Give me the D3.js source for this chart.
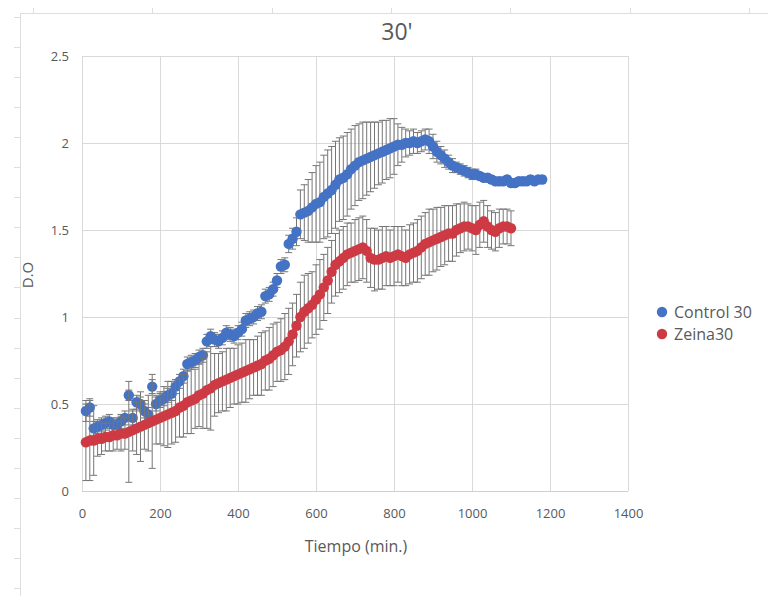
<!DOCTYPE html>
<html>
<head>
<meta charset="utf-8">
<script src="https://cdn.jsdelivr.net/npm/d3@7/dist/d3.min.js"></script>
<style>
  html, body { margin: 0; padding: 0; background: #fff; }
  svg { display: block; font-family: "Open Sans", "Noto Sans", sans-serif; }
</style>
</head>
<body>
<svg id="chart" width="768" height="596"></svg>
<script>
// ---- data -------------------------------------------------------------
const chartTitle = "30'";
const xTitle = "Tiempo (min.)";
const yTitle = "D.O";
const seriesNames = ["Control 30", "Zeina30"];

const xTicks = [0, 200, 400, 600, 800, 1000, 1200, 1400];
const yTicks = [0, 0.5, 1, 1.5, 2, 2.5];

// sampling times (min)
const timeControl = d3.range(10, 1181, 10);
const timeZeina = d3.range(10, 1101, 10);

// Control 30: mean optical density
const controlValues = [
  0.46, 0.48, 0.36, 0.37, 0.38, 0.39, 0.40, 0.38, 0.38, 0.40,
  0.42, 0.55, 0.42, 0.51, 0.50, 0.46, 0.44, 0.60, 0.50, 0.52,
  0.53, 0.55, 0.56, 0.60, 0.63, 0.66, 0.73, 0.74, 0.75, 0.77,
  0.78, 0.86, 0.89, 0.87, 0.86, 0.88, 0.91, 0.90, 0.89, 0.91,
  0.93, 0.98, 0.99, 1.00, 1.02, 1.03, 1.12, 1.13, 1.16, 1.21,
  1.29, 1.30, 1.42, 1.45, 1.49, 1.59, 1.60, 1.61, 1.63, 1.65,
  1.66, 1.69, 1.71, 1.73, 1.76, 1.79, 1.80, 1.82, 1.85, 1.87,
  1.89, 1.90, 1.91, 1.92, 1.93, 1.94, 1.95, 1.96, 1.97, 1.98,
  1.99, 1.99, 2.00, 2.00, 2.01, 2.00, 2.01, 2.02, 2.01, 1.98,
  1.95, 1.93, 1.91, 1.89, 1.87, 1.86, 1.85, 1.84, 1.83, 1.82,
  1.82, 1.81, 1.80, 1.80, 1.79, 1.78, 1.78, 1.78, 1.79, 1.77,
  1.77, 1.78, 1.78, 1.78, 1.79, 1.78, 1.79, 1.79
];
// Control 30: standard deviation
const controlErrors = [
  0.06, 0.05, 0.04, 0.04, 0.04, 0.04, 0.04, 0.04, 0.04, 0.04,
  0.04, 0.03, 0.04, 0.04, 0.04, 0.04, 0.04, 0.04, 0.04, 0.04,
  0.04, 0.04, 0.04, 0.04, 0.04, 0.04, 0.04, 0.04, 0.04, 0.04,
  0.04, 0.04, 0.04, 0.04, 0.04, 0.04, 0.04, 0.04, 0.04, 0.04,
  0.04, 0.04, 0.04, 0.04, 0.04, 0.04, 0.04, 0.04, 0.04, 0.04,
  0.04, 0.04, 0.05, 0.06, 0.08, 0.14, 0.16, 0.18, 0.20, 0.22,
  0.23, 0.24, 0.25, 0.25, 0.25, 0.24, 0.24, 0.24, 0.23, 0.23,
  0.22, 0.22, 0.21, 0.20, 0.19, 0.18, 0.18, 0.17, 0.17, 0.16,
  0.12, 0.10, 0.08, 0.07, 0.07, 0.06, 0.06, 0.06, 0.07, 0.07,
  0.06, 0.05, 0.05, 0.04, 0.04, 0.03, 0.03, 0.03, 0.03, 0.03,
  0.03, 0.02, 0.02, 0.02, 0.02, 0.02, 0.02, 0.02, 0.02, 0.02,
  0.02, 0.02, 0.02, 0.02, 0.02, 0.02, 0.02, 0.02
];

// Zeina30: mean optical density
const zeinaValues = [
  0.28, 0.29, 0.29, 0.30, 0.30, 0.31, 0.31, 0.32, 0.32, 0.33,
  0.33, 0.34, 0.35, 0.36, 0.37, 0.38, 0.39, 0.40, 0.41, 0.42,
  0.43, 0.44, 0.45, 0.46, 0.48, 0.49, 0.51, 0.52, 0.53, 0.55,
  0.56, 0.58, 0.59, 0.61, 0.62, 0.63, 0.64, 0.65, 0.66, 0.67,
  0.68, 0.69, 0.70, 0.71, 0.72, 0.73, 0.75, 0.76, 0.78, 0.80,
  0.81, 0.83, 0.86, 0.90, 0.95, 1.00, 1.03, 1.05, 1.07, 1.10,
  1.13, 1.17, 1.21, 1.26, 1.30, 1.32, 1.34, 1.36, 1.37, 1.38,
  1.39, 1.40, 1.38, 1.34, 1.33, 1.33, 1.34, 1.35, 1.34, 1.35,
  1.36, 1.35, 1.34, 1.36, 1.37, 1.38, 1.40, 1.42, 1.43, 1.44,
  1.45, 1.46, 1.47, 1.48, 1.48, 1.50, 1.51, 1.52, 1.52, 1.51,
  1.50, 1.53, 1.55, 1.52, 1.50, 1.49, 1.51, 1.52, 1.52, 1.51
];
// Zeina30: standard deviation
const zeinaErrors = [
  0.22, 0.23, 0.20, 0.10, 0.09, 0.08, 0.08, 0.09, 0.08, 0.10,
  0.09, 0.29, 0.12, 0.15, 0.20, 0.14, 0.16, 0.27, 0.14, 0.15,
  0.17, 0.19, 0.18, 0.18, 0.17, 0.18, 0.18, 0.19, 0.17, 0.18,
  0.20, 0.22, 0.24, 0.18, 0.17, 0.17, 0.18, 0.17, 0.16, 0.17,
  0.17, 0.18, 0.17, 0.16, 0.17, 0.18, 0.17, 0.18, 0.18, 0.17,
  0.18, 0.19, 0.19, 0.18, 0.18, 0.20, 0.21, 0.20, 0.19, 0.20,
  0.20, 0.19, 0.19, 0.18, 0.18, 0.18, 0.18, 0.18, 0.17, 0.18,
  0.18, 0.18, 0.18, 0.17, 0.18, 0.17, 0.18, 0.17, 0.16, 0.17,
  0.16, 0.17, 0.16, 0.17, 0.17, 0.18, 0.18, 0.18, 0.19, 0.18,
  0.18, 0.17, 0.17, 0.16, 0.16, 0.15, 0.14, 0.14, 0.13, 0.13,
  0.14, 0.13, 0.12, 0.12, 0.11, 0.11, 0.11, 0.10, 0.10, 0.10
];

const seriesColors = ["#4472C4", "#CE3A44"];

// ---- layout -----------------------------------------------------------
const svg = d3.select("#chart");
const W = 768, H = 596;
const plot = { left: 82, right: 628, top: 56, bottom: 491 };

const x = d3.scaleLinear().domain([0, 1400]).range([plot.left, plot.right]);
const y = d3.scaleLinear().domain([0, 2.5]).range([plot.bottom, plot.top]);

const textColor = "#595959";
const gridColor = "#d9d9d9";

// spreadsheet rulers along the top and left edges
const ruler = svg.append("g").attr("stroke", "#dedede").attr("stroke-width", 1);
ruler.append("line").attr("x1", 20).attr("x2", W).attr("y1", 13.5).attr("y2", 13.5);
ruler.append("line").attr("x1", 20.5).attr("x2", 20.5).attr("y1", 13).attr("y2", H);
d3.range(33, W, 119.3).forEach(px => {
  ruler.append("line").attr("x1", Math.round(px) + 0.5).attr("x2", Math.round(px) + 0.5)
    .attr("y1", 8).attr("y2", 13);
});
d3.range(17, H, 30.05).forEach(py => {
  ruler.append("line").attr("x1", 14).attr("x2", 20)
    .attr("y1", Math.round(py) + 0.5).attr("y2", Math.round(py) + 0.5);
});

// gridlines
const grid = svg.append("g");
grid.append("g")
  .attr("transform", `translate(0,${plot.bottom})`)
  .call(d3.axisBottom(x).tickValues(xTicks).tickSize(-(plot.bottom - plot.top)).tickFormat(""))
  .call(g => g.select(".domain").remove())
  .call(g => g.selectAll(".tick line").attr("stroke", gridColor));
grid.append("g")
  .attr("transform", `translate(${plot.left},0)`)
  .call(d3.axisLeft(y).tickValues(yTicks).tickSize(-(plot.right - plot.left)).tickFormat(""))
  .call(g => g.select(".domain").remove())
  .call(g => g.selectAll(".tick line").attr("stroke", gridColor));

// axis line
svg.append("line")
  .attr("x1", plot.left).attr("x2", plot.right)
  .attr("y1", plot.bottom + 0.5).attr("y2", plot.bottom + 0.5)
  .attr("stroke", "#cfcfcf");

// tick labels
svg.append("g")
  .attr("transform", `translate(0,${plot.bottom + 15})`)
  .call(d3.axisBottom(x).tickValues(xTicks).tickSize(0).tickFormat(d3.format("d")))
  .call(g => g.select(".domain").remove())
  .call(g => g.selectAll("text").attr("fill", textColor)
    .style("font-size", "13px").style("font-family", "'Open Sans', sans-serif"));

svg.append("g")
  .attr("transform", `translate(${plot.left - 10},0)`)
  .call(d3.axisLeft(y).tickValues(yTicks).tickSize(0).tickFormat(d => String(d)))
  .call(g => g.select(".domain").remove())
  .call(g => g.selectAll("text").attr("fill", textColor)
    .style("font-size", "13px").style("font-family", "'Open Sans', sans-serif"));

// titles
svg.append("text")
  .attr("x", 397).attr("y", 40)
  .attr("text-anchor", "middle")
  .attr("fill", textColor)
  .style("font-size", "23px")
  .text(chartTitle);

svg.append("text")
  .attr("x", 356).attr("y", 552)
  .attr("text-anchor", "middle")
  .attr("fill", textColor)
  .style("font-size", "16px")
  .text(xTitle);

svg.append("text")
  .attr("transform", "translate(33,275) rotate(-90)")
  .attr("text-anchor", "middle")
  .attr("fill", textColor)
  .style("font-size", "15px")
  .text(yTitle);

// series: error bars then markers
const series = [
  { name: seriesNames[0], t: timeControl, v: controlValues, e: controlErrors, color: seriesColors[0] },
  { name: seriesNames[1], t: timeZeina, v: zeinaValues, e: zeinaErrors, color: seriesColors[1] }
];

const capHalf = 3.5;
const errColor = "#767676";

series.forEach(s => {
  const pts = s.t.map((t, i) => ({ t, v: s.v[i], e: s.e[i] }));
  const g = svg.append("g");
  const eb = g.append("g").attr("stroke", errColor).attr("stroke-width", 1).attr("fill", "none");
  eb.selectAll("path").data(pts).join("path")
    .attr("d", d => {
      const cx = x(d.t), y1 = y(d.v + d.e), y2 = y(d.v - d.e);
      return `M${cx},${y1}V${y2}M${cx - capHalf},${y1}H${cx + capHalf}M${cx - capHalf},${y2}H${cx + capHalf}`;
    });
  g.append("g").selectAll("circle").data(pts).join("circle")
    .attr("cx", d => x(d.t))
    .attr("cy", d => y(d.v))
    .attr("r", 5.2)
    .attr("fill", s.color);
});

// legend
const legend = svg.append("g").attr("transform", "translate(662,312)");
series.forEach((s, i) => {
  const row = legend.append("g").attr("transform", `translate(0,${i * 22})`);
  row.append("circle").attr("r", 5.2).attr("fill", s.color);
  row.append("text").attr("x", 12).attr("y", 5.5)
    .attr("fill", textColor)
    .style("font-size", "16px")
    .text(s.name);
});
</script>
</body>
</html>
